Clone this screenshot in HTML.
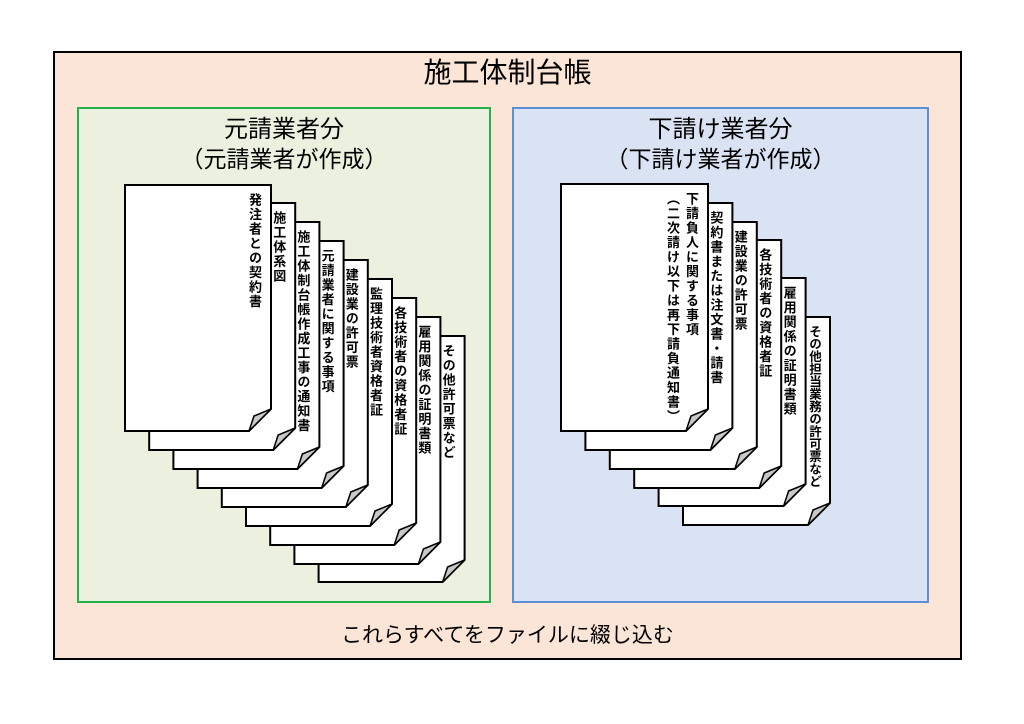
<!DOCTYPE html>
<html><head><meta charset="utf-8"><style>
body{margin:0;width:1024px;height:724px;background:#fff;position:relative;overflow:hidden;font-family:"Liberation Sans","Noto Sans CJK JP",sans-serif;color:#000}
.a{position:absolute}
.t{position:absolute;text-align:center;white-space:nowrap;line-height:1}
.v{position:absolute;writing-mode:vertical-rl;font-size:13px;font-weight:bold;letter-spacing:1.5px;line-height:19px;white-space:nowrap}
</style></head><body>
<div class="a" style="left:53px;top:51px;width:905px;height:605px;background:#fbe5d6;border:2px solid #000"></div>
<div class="t" style="left:53px;width:909px;top:59px;font-size:28px">施工体制台帳</div>
<div class="a" style="left:77px;top:107px;width:410px;height:492px;background:#ebf1de;border:2px solid #22b14c"></div>
<div class="a" style="left:512px;top:107px;width:413px;height:492px;background:#dae3f3;border:2px solid #5b8fd6"></div>
<div class="t" style="left:77px;width:414px;top:118px;font-size:24px">元請業者分</div>
<div class="t" style="left:77px;width:414px;top:148px;font-size:23px">（元請業者が作成）</div>
<div class="t" style="left:512px;width:417px;top:118px;font-size:24px">下請け業者分</div>
<div class="t" style="left:512px;width:417px;top:148px;font-size:23px">（下請け業者が作成）</div>
<div class="t" style="left:53px;width:909px;top:625px;font-size:21px">これらすべてをファイルに綴じ込む</div>
<svg class="a" style="left:0;top:0" width="1024" height="724" id="s"></svg>
<div id="txt"></div>
<script>
var s=document.getElementById('s'),tx=document.getElementById('txt'),h='',th='';
function page(x,y,x2,y2){var c=22;
h+='<polygon points="'+x+','+y+' '+x2+','+y+' '+x2+','+(y2-c)+' '+(x2-c)+','+y2+' '+x+','+y2+'" fill="#fff" stroke="#000" stroke-width="2"/>';
h+='<polygon points="'+(x2-c)+','+y2+' '+(x2-17)+','+(y2-15)+' '+x2+','+(y2-c)+'" fill="#c8c8c8" stroke="#000" stroke-width="1.5"/>';}
var L=["発注者との契約書","施工体系図","施工体制台帳作成工事の通知書","元請業者に関する事項","建設業の許可票","監理技術者資格者証","各技術者の資格者証","雇用関係の証明書類","その他許可票など"];
var lt=[185,203,222,241,260,279,298,317,336],lb=[431,450,469,488,507,526,545,564,582];
var pages=[];
for(var i=0;i<9;i++){var x=125+i*24.2;pages.push([x,lt[i],x+146,lb[i],[L[i]]]);}
var R=[["下請負人に関する事項","（二次請け以下は再下請負通知書）"],["契約書または注文書・請書"],["建設業の許可票"],["各技術者の資格者証"],["雇用関係の証明書類"],["その他担当業務の許可票など"]];
var rt=[184,203,222,240,278,317],rb=[431,450,469,488,506,525];
for(var i=0;i<6;i++){var x=561+i*24.4;pages.push([x,rt[i],x+147,rb[i],R[i]]);}
for(var i=8;i>=0;i--){var p=pages[i];page(p[0],p[1],p[2],p[3]);}
for(var i=14;i>=9;i--){var p=pages[i];page(p[0],p[1],p[2],p[3]);}
s.innerHTML=h;
pages.forEach(function(p,i){var w=p[4].length*19;var ex=(i==14)?'letter-spacing:0;font-size:12.5px;':'';
th+='<div class="v" style="'+ex+'left:'+(p[2]-7-w)+'px;top:'+(p[1]+8)+'px;width:'+w+'px">'+p[4].join('<br>')+'</div>';});
tx.innerHTML=th;
</script>
</body></html>
